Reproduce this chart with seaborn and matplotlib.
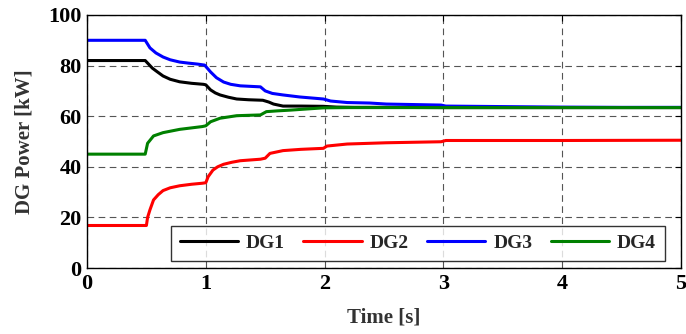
import matplotlib
matplotlib.use("Agg")
import matplotlib.pyplot as plt
import seaborn as sns
import pandas as pd

# Output power of the four diesel generators during load sharing
t_dg1 = [0, 0.49, 0.51, 0.55, 0.59, 0.64, 0.70, 0.78, 0.88, 0.98, 1.00, 1.04, 1.08, 1.12, 1.19,
         1.26, 1.36, 1.48, 1.53, 1.57, 1.65, 1.80, 1.99, 2.10, 2.25, 2.5, 3.0, 3.5, 4.0, 4.5, 5.0]
p_dg1 = [82, 82, 81, 79, 77.6, 75.9, 74.6, 73.6, 73.0, 72.6, 72.4, 70.4, 69.2, 68.4, 67.5,
         66.8, 66.5, 66.3, 65.6, 64.8, 64.0, 64.0, 63.9, 63.6, 63.5, 63.5, 63.4, 63.4, 63.4, 63.4, 63.4]

t_dg2 = [0, 0.50, 0.51, 0.53, 0.56, 0.60, 0.64, 0.70, 0.78, 0.88, 0.97, 1.00, 1.02, 1.06, 1.10,
         1.15, 1.22, 1.29, 1.46, 1.50, 1.54, 1.65, 1.80, 1.99, 2.02, 2.19, 2.52, 2.98, 3.02, 4.0, 5.0]
p_dg2 = [16.8, 16.8, 20, 23, 26.9, 29, 30.6, 31.7, 32.5, 33.1, 33.5, 33.7, 36.1, 38.7, 40,
         41, 41.8, 42.4, 43, 43.4, 45.3, 46.4, 46.9, 47.3, 48.2, 49, 49.5, 49.9, 50.4, 50.4, 50.5]

t_dg3 = [0, 0.49, 0.53, 0.58, 0.64, 0.70, 0.78, 0.85, 0.93, 0.99, 1.04, 1.09, 1.15, 1.21, 1.29,
         1.46, 1.50, 1.56, 1.65, 1.79, 1.99, 2.05, 2.19, 2.38, 2.52, 2.98, 3.02, 3.5, 4.0, 4.5, 5.0]
p_dg3 = [90, 90, 87, 85, 83.4, 82.3, 81.4, 81.0, 80.6, 80.2, 77.5, 75.2, 73.5, 72.6, 72,
         71.6, 70.0, 69, 68.4, 67.6, 66.8, 66.0, 65.4, 65.2, 64.8, 64.4, 64.0, 63.8, 63.6, 63.5, 63.5]

t_dg4 = [0, 0.49, 0.51, 0.56, 0.64, 0.78, 0.97, 1.00, 1.04, 1.12, 1.26, 1.46, 1.51, 1.60, 1.71,
         1.99, 2.2, 2.5, 3.0, 4.0, 5.0]
p_dg4 = [45, 45, 49.3, 52.2, 53.5, 54.8, 55.9, 56.2, 57.8, 59.2, 60.2, 60.5, 61.8, 62.1, 62.4,
         63.3, 63.4, 63.4, 63.4, 63.4, 63.4]

series_names = ["DG1", "DG2", "DG3", "DG4"]
series_colors = ["#000000", "#ff0000", "#0000ff", "#008000"]
x_ticks = [0, 1, 2, 3, 4, 5]
y_ticks = [0, 20, 40, 60, 80, 100]

frames = []
for name, t, p in zip(series_names, [t_dg1, t_dg2, t_dg3, t_dg4], [p_dg1, p_dg2, p_dg3, p_dg4]):
    frames.append(pd.DataFrame({"Time": t, "Power": p, "Unit": name}))
df = pd.concat(frames, ignore_index=True)

sns.set_style("white")
plt.rcParams["font.family"] = ["Liberation Serif", "DejaVu Serif"]
plt.rcParams["font.weight"] = "bold"

fig = plt.figure(figsize=(6.86, 3.34), dpi=100)
ax = fig.add_axes([87 / 686, 1 - 268 / 334, 594 / 686, 253 / 334])

sns.lineplot(data=df, x="Time", y="Power", hue="Unit", hue_order=series_names,
             palette=series_colors, estimator=None, sort=False, linewidth=2.2, ax=ax)

ax.set_xlim(0, 5)
ax.set_ylim(0, 100)
ax.set_xticks(x_ticks)
ax.set_yticks(y_ticks)
ax.set_xticklabels([str(v) for v in x_ticks], fontsize=16, fontweight="bold")
ax.set_yticklabels([str(v) for v in y_ticks], fontsize=16, fontweight="bold")
ax.tick_params(direction="in", length=4, width=0.8, top=True, right=True, pad=4, colors="black")
ax.grid(True, linestyle=(0, (6, 4)), color="#555555", linewidth=0.8)
for s in ax.spines.values():
    s.set_visible(True)
    s.set_color("black")
    s.set_linewidth(1.0)

ax.set_xlabel("Time [s]", fontsize=15, fontweight="bold", color="#333333", labelpad=10)
ax.set_ylabel("DG Power [kW]", fontsize=15, fontweight="bold", color="#333333", labelpad=10)

leg = ax.legend(loc="center", bbox_to_anchor=(0.557, 0.097), ncol=4, fontsize=14,
                frameon=True, fancybox=False, edgecolor="black", handlelength=3.0,
                columnspacing=0.95, handletextpad=0.4, borderpad=0.45, borderaxespad=0)
leg.get_frame().set_linewidth(1.0)
for line in leg.get_lines():
    line.set_linewidth(2.2)
for txt in leg.get_texts():
    txt.set_fontweight("bold")

fig.savefig("out.png", dpi=100)
